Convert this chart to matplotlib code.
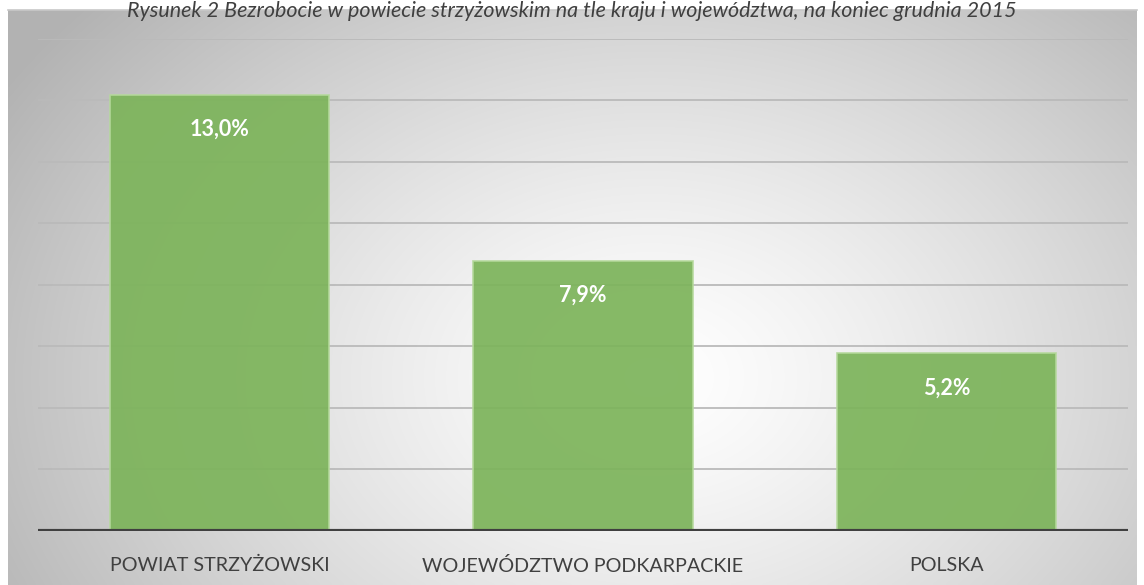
import numpy as np
import matplotlib
matplotlib.use("Agg")
import matplotlib.pyplot as plt

categories = ["POWIAT STRZYŻOWSKI", "WOJEWÓDZTWO PODKARPACKIE", "POLSKA"]
values = [12.77, 7.9, 5.2]
value_labels = ["13,0%", "7,9%", "5,2%"]
title = "Rysunek 2 Bezrobocie w powiecie strzyżowskim na tle kraju i województwa, na koniec grudnia 2015"

W, H = 1144, 585
fig = plt.figure(figsize=(W / 100, H / 100), dpi=100)
fig.patch.set_facecolor("white")

# gradient background panel (pixel coords)
px0, px1, py0, py1 = 8, 1137, 10, 585
bg = fig.add_axes([px0 / W, 1 - py1 / H, (px1 - px0) / W, (py1 - py0) / H])
nx, ny = 400, 220
xx, yy = np.meshgrid(np.linspace(0, 1, nx), np.linspace(0, 1, ny))
cx, cy = 0.57, 0.64
r = np.sqrt(((xx - cx) / 0.62) ** 2 + ((yy - cy) / 0.9) ** 2)
r = np.clip(r, 0, 1.2)
v = 1.0 - 0.27 * r ** 1.3
v = np.clip(v, 0.7, 1.0)
img = np.dstack([v, v, v])
bg.imshow(img, aspect="auto", extent=[0, 1, 0, 1], origin="upper", interpolation="bilinear")
bg.set_axis_off()
bg.plot([0, 1], [1, 1], color="#c8c8c8", lw=1.2, transform=bg.transAxes, clip_on=False)

# main axes
ax_l, ax_r = 38, 1128
ax_t, ax_b = 39, 530.7
ax = fig.add_axes([ax_l / W, 1 - ax_b / H, (ax_r - ax_l) / W, (ax_b - ax_t) / H])
ax.patch.set_alpha(0)
ymax = 14.4
step = 1.8
ax.set_ylim(0, ymax)
ax.set_xlim(-0.5, len(categories) - 0.5)
for k in range(1, 9):
    ax.axhline(k * step, color="#bababa", lw=1.3, zorder=1)

x = np.arange(len(categories))
ax.bar(x, values, width=0.603, color="#7db45b", alpha=0.93,
       edgecolor="#b5d99c", linewidth=1.2, zorder=2)

for xi, val, lab in zip(x, values, value_labels):
    ax.annotate(lab, (xi, val), xytext=(0, -25), textcoords="offset points",
                ha="center", va="center", color="white", fontsize=15.5,
                fontweight="bold", family="Lato", zorder=4)

ax.axhline(0, color="#404040", lw=3, zorder=3)
for s in ax.spines.values():
    s.set_visible(False)
ax.set_yticks([])
ax.set_xticks(x)
ax.set_xticklabels(categories, fontsize=14.2, color="#404040", family="Lato")
ax.tick_params(axis="x", length=0, pad=19)

fig.text(0.5, 1 - 1 / H, title, ha="center", va="top", fontsize=15.5,
         style="italic", color="#404040", family="Lato")

fig.savefig("out.png", dpi=100, facecolor="white")
